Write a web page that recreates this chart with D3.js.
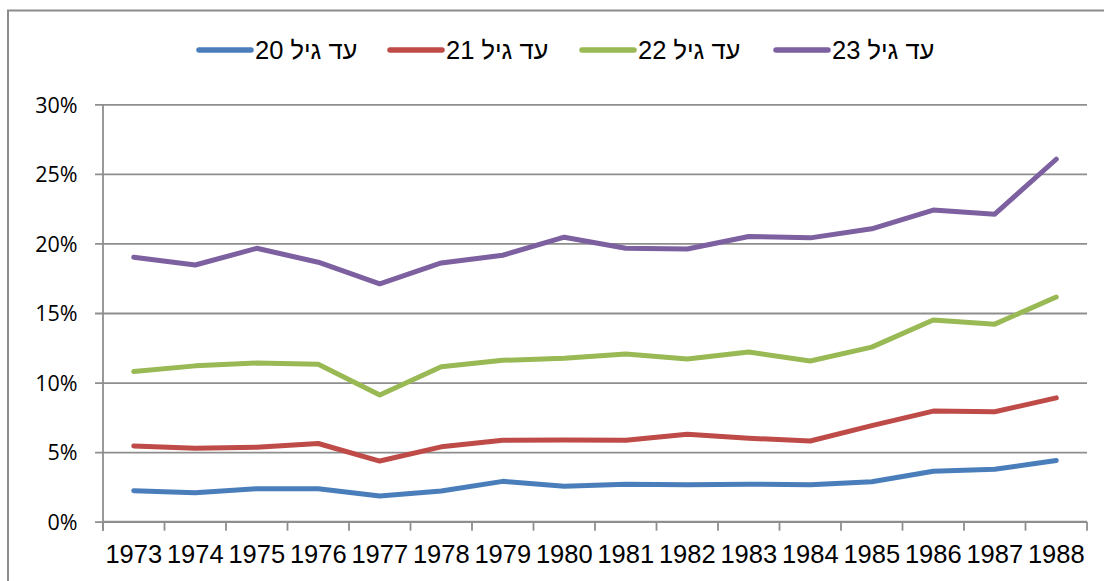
<!DOCTYPE html>
<html>
<head>
<meta charset="utf-8">
<script src="https://cdn.jsdelivr.net/npm/d3@7"></script>
<style>
  body { margin: 0; background: #fff; }
</style>
</head>
<body>
<div id="chart"></div>
<script>
// data
let years = ["1973","1974","1975","1976","1977","1978","1979","1980","1981","1982","1983","1984","1985","1986","1987","1988"];
let seriesNames = ["עד גיל 20", "עד גיל 21", "עד גיל 22", "עד גיל 23"];
let upTo20 = [2.23, 2.08, 2.37, 2.37, 1.85, 2.2, 2.9, 2.55, 2.7, 2.65, 2.7, 2.65, 2.87, 3.62, 3.77, 4.4];
let upTo21 = [5.44, 5.28, 5.35, 5.62, 4.36, 5.38, 5.86, 5.87, 5.85, 6.28, 6.0, 5.8, 6.9, 7.95, 7.9, 8.9];
let upTo22 = [10.8, 11.2, 11.4, 11.32, 9.1, 11.13, 11.6, 11.75, 12.05, 11.7, 12.2, 11.55, 12.55, 14.5, 14.2, 16.15];
let upTo23 = [19.0, 18.45, 19.65, 18.65, 17.1, 18.6, 19.15, 20.45, 19.65, 19.6, 20.5, 20.4, 21.05, 22.4, 22.1, 26.05];
let yTicks = [0, 5, 10, 15, 20, 25, 30];
let colors = ["#4a7ebb", "#be4b48", "#98b954", "#7d60a0"];

let allSeries = [upTo20, upTo21, upTo22, upTo23];

// layout
let W = 1104, H = 581;
let plot = {left: 103, right: 1087, top: 104.3, bottom: 521.7};

let svg = d3.select("#chart").append("svg")
    .attr("width", W)
    .attr("height", H);

// outer frame (right and bottom sides fall outside the picture)
svg.append("rect")
    .attr("x", 8).attr("y", 10.5)
    .attr("width", 1200).attr("height", 700)
    .attr("fill", "none")
    .attr("stroke", "#8c8c8c")
    .attr("stroke-width", 2);

let x = d3.scaleBand()
    .domain(years)
    .range([plot.left, plot.right]);

let y = d3.scaleLinear()
    .domain([0, 30])
    .range([plot.bottom, plot.top]);

// horizontal grid lines + y axis
let axeY = d3.axisLeft(y)
    .tickValues(yTicks)
    .tickSize(plot.right - plot.left + 8)
    .tickFormat(function(d){ return d + "%"; });

let gy = svg.append("g")
    .attr("transform", "translate(" + plot.right + ",0)")
    .call(axeY);
gy.select(".domain").remove();
gy.selectAll(".tick line")
    .attr("stroke", "#8e8e8e")
    .attr("stroke-width", 1.8);
gy.selectAll(".tick text")
    .attr("x", -(plot.right - 77.5))
    .attr("dy", "0.36em")
    .style("font-family", "'Open Sans', sans-serif")
    .style("font-size", "21.5px")
    .attr("fill", "#000");

// x axis with ticks between categories
let gx = svg.append("g")
    .attr("transform", "translate(0," + plot.bottom + ")");
gx.selectAll("line.tk")
    .data(years.concat(["end"]))
    .enter().append("line")
    .attr("class", "tk")
    .attr("x1", function(d){ return d == "end" ? plot.right : x(d); })
    .attr("x2", function(d){ return d == "end" ? plot.right : x(d); })
    .attr("y1", 0).attr("y2", 9)
    .attr("stroke", "#8e8e8e")
    .attr("stroke-width", 1.8);
gx.append("line")
    .attr("x1", plot.left).attr("x2", plot.right)
    .attr("y1", 0).attr("y2", 0)
    .attr("stroke", "#8e8e8e")
    .attr("stroke-width", 1.8);
gx.selectAll("text")
    .data(years)
    .enter().append("text")
    .attr("x", function(d){ return x(d) + x.bandwidth() / 2; })
    .attr("y", 41.5)
    .attr("text-anchor", "middle")
    .style("font-family", "'Liberation Sans', Arial, sans-serif")
    .style("font-size", "25.5px")
    .attr("fill", "#000")
    .text(function(d){ return d; });

// vertical axis line
svg.append("line")
    .attr("x1", plot.left).attr("x2", plot.left)
    .attr("y1", plot.top).attr("y2", plot.bottom + 9)
    .attr("stroke", "#8e8e8e")
    .attr("stroke-width", 1.8);

// the four lines
let line = d3.line()
    .x(function(d, i){ return x(years[i]) + x.bandwidth() / 2; })
    .y(function(d){ return y(d); });

svg.selectAll("path.serie")
    .data(allSeries)
    .enter().append("path")
    .attr("class", "serie")
    .attr("d", line)
    .attr("fill", "none")
    .attr("stroke", function(d, i){ return colors[i]; })
    .attr("stroke-width", 5)
    .attr("stroke-linejoin", "round")
    .attr("stroke-linecap", "round");

// legend
let legendX = [197, 388, 580, 774];
let legend = svg.selectAll("g.leg")
    .data(seriesNames)
    .enter().append("g")
    .attr("class", "leg")
    .attr("transform", function(d, i){ return "translate(" + legendX[i] + ",50)"; });

legend.append("line")
    .attr("x1", 2).attr("x2", 54)
    .attr("y1", 0).attr("y2", 0)
    .attr("stroke", function(d, i){ return colors[i]; })
    .attr("stroke-width", 5.5)
    .attr("stroke-linecap", "round");

legend.append("text")
    .attr("x", 58)
    .attr("y", 9)
    .attr("direction", "rtl")
    .attr("text-anchor", "end")
    .style("font-family", "'Liberation Sans', Arial, sans-serif")
    .style("font-size", "25.5px")
    .attr("fill", "#000")
    .text(function(d){ return d; });
</script>
</body>
</html>
